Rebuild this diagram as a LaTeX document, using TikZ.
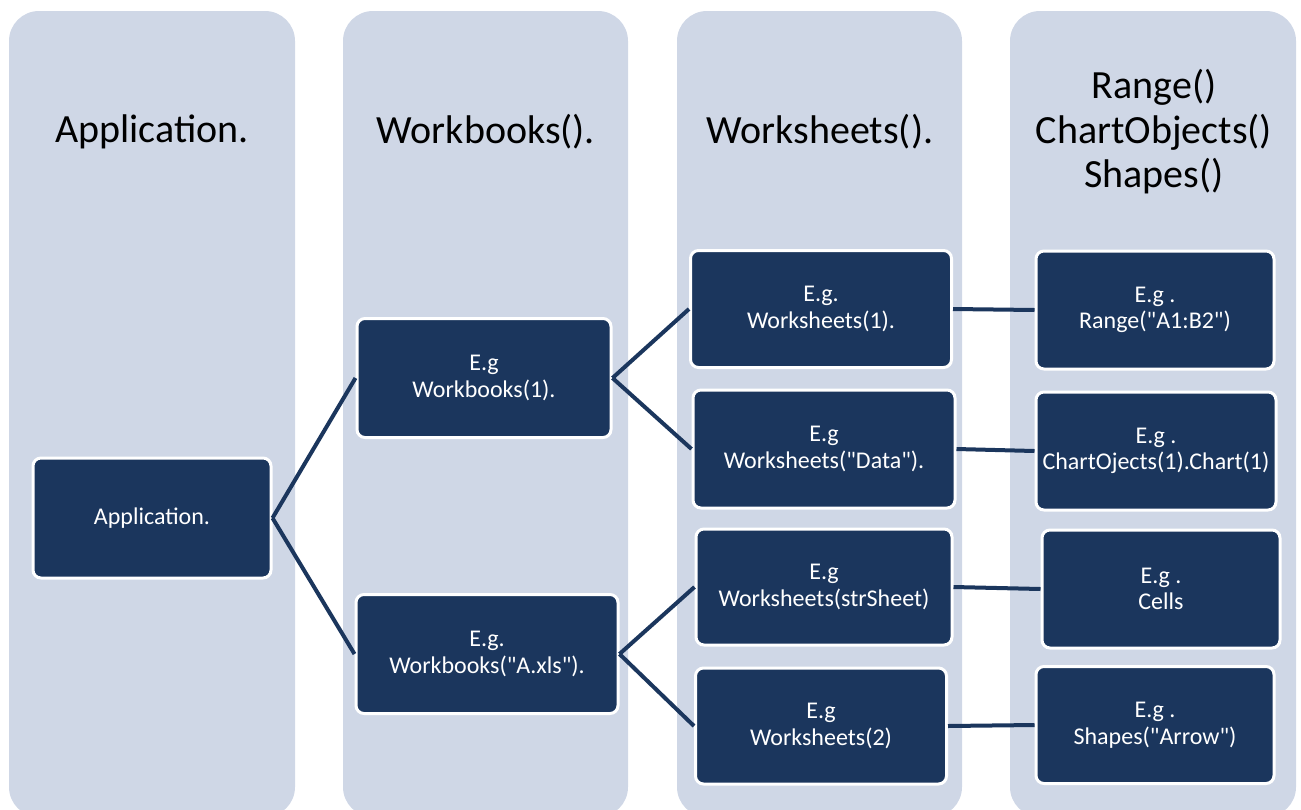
\documentclass[tikz,border=0pt]{standalone}
\usepackage{fontspec}
\setmainfont{Carlito}[Ligatures=TeXOff]
\definecolor{colbg}{HTML}{CFD7E6}
\definecolor{navy}{HTML}{1B365D}
\begin{document}
\begin{tikzpicture}[x=1pt,y=-1pt,
  column/.style={fill=colbg, draw=none, rounded corners=30pt},
  header/.style={font=\fontsize{40}{44.5}\selectfont, text=black, align=center},
  item/.style={rectangle, fill=navy, draw=white, line width=3pt, rounded corners=8pt,
    text=white, align=center, font=\fontsize{24}{26.5}\selectfont, inner sep=0pt},
  link/.style={draw=navy, line width=4pt}
]
\useasboundingbox (0,0) rectangle (1301,809);
\clip (0,0) rectangle (1301,809);
% columns
\fill[column] (9,11) rectangle (295,817);
\fill[column] (343,11) rectangle (628,817);
\fill[column] (677,11) rectangle (962,817);
\fill[column] (1010,11) rectangle (1296,817);
% headers
\node[header] (h1) at (152,132) {Application.};
\node[header] (h2) at (486,132) {Workbooks().};
\node[header] (h3) at (820,132) {Worksheets().};
\node[header] (h4) at (1154,132) {Range()\\ChartObjects()\\Shapes()};
% boxes
\node[item, minimum width=238pt, minimum height=120pt] (app) at (152,518) {Application.};
\node[item, minimum width=254pt, minimum height=119pt] (wb1) at (484,378) {E.g\\Workbooks(1).};
\node[item, minimum width=262pt, minimum height=119pt] (wb2) at (487,654) {E.g.\\Workbooks("A.xls").};
\node[item, minimum width=261pt, minimum height=117pt] (ws1) at (821,309) {E.g.\\Worksheets(1).};
\node[item, minimum width=262pt, minimum height=118pt] (ws2) at (824,449) {E.g\\Worksheets("Data").};
\node[item, minimum width=256pt, minimum height=116pt] (ws3) at (824,587) {E.g\\Worksheets(strSheet)};
\node[item, minimum width=251pt, minimum height=116pt] (ws4) at (821,726) {E.g\\Worksheets(2)};
\node[item, minimum width=238pt, minimum height=118pt] (r1) at (1155,310) {E.g .\\Range("A1:B2")};
\node[item, minimum width=240pt, minimum height=118pt] (r2) at (1156,451) {E.g .\\ChartOjects(1).Chart(1)};
\node[item, minimum width=238pt, minimum height=118pt] (r3) at (1161,589) {E.g .\\Cells};
\node[item, minimum width=238pt, minimum height=117pt] (r4) at (1155,725) {E.g .\\Shapes("Arrow")};
% connectors
\draw[link] (app.east) -- (wb1.west);
\draw[link] (app.east) -- (wb2.west);
\draw[link] (wb1.east) -- (ws1.west);
\draw[link] (wb1.east) -- (ws2.west);
\draw[link] (wb2.east) -- (ws3.west);
\draw[link] (wb2.east) -- (ws4.west);
\draw[link] (ws1.east) -- (r1.west);
\draw[link] (ws2.east) -- (r2.west);
\draw[link] (ws3.east) -- (r3.west);
\draw[link] (ws4.east) -- (r4.west);
\end{tikzpicture}
\end{document}
